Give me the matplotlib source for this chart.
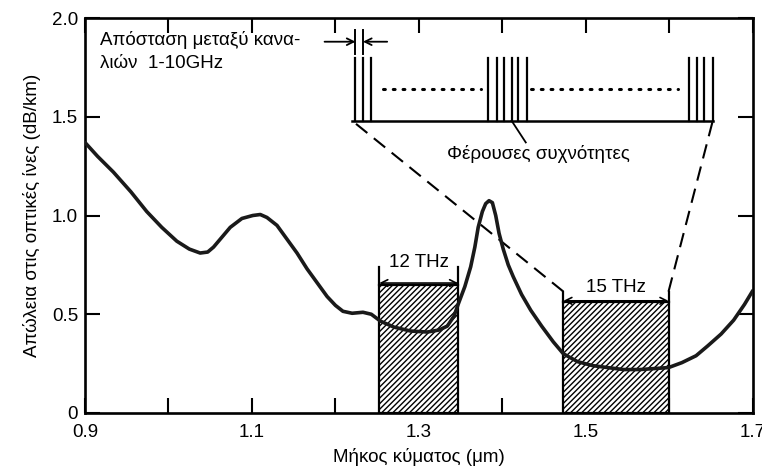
import matplotlib.pyplot as plt
from matplotlib.ticker import MultipleLocator

plt.rcParams['font.family'] = ['Liberation Sans', 'DejaVu Sans']
plt.rcParams['hatch.linewidth'] = 1.0

# loss curve
wavelength = [0.900, 0.915, 0.934, 0.955, 0.974, 0.992, 1.010, 1.025, 1.038, 1.047,
              1.054, 1.064, 1.074, 1.088, 1.101, 1.110, 1.118, 1.130, 1.142, 1.154,
              1.166, 1.178, 1.190, 1.200, 1.209, 1.220, 1.233, 1.243, 1.254, 1.270,
              1.290, 1.310, 1.324, 1.334, 1.342, 1.347, 1.355, 1.362, 1.367, 1.371,
              1.376, 1.380, 1.384, 1.388, 1.392, 1.396, 1.401, 1.407, 1.413, 1.423,
              1.434, 1.447, 1.461, 1.473, 1.490, 1.508, 1.526, 1.545, 1.565, 1.582,
              1.599, 1.615, 1.632, 1.646, 1.662, 1.677, 1.690, 1.700]
loss = [1.37, 1.30, 1.22, 1.12, 1.02, 0.94, 0.87, 0.83, 0.81, 0.815,
        0.84, 0.89, 0.94, 0.985, 1.00, 1.005, 0.99, 0.95, 0.88, 0.81,
        0.73, 0.66, 0.59, 0.545, 0.515, 0.505, 0.51, 0.50, 0.465, 0.435,
        0.415, 0.41, 0.42, 0.44, 0.49, 0.55, 0.64, 0.74, 0.84, 0.94,
        1.02, 1.06, 1.075, 1.065, 1.00, 0.91, 0.83, 0.75, 0.69, 0.60,
        0.52, 0.44, 0.36, 0.30, 0.26, 0.24, 0.23, 0.22, 0.22, 0.225,
        0.23, 0.255, 0.29, 0.34, 0.40, 0.47, 0.55, 0.62]

# low-loss windows
band_start = [1.2525, 1.473]
band_end = [1.347, 1.599]
band_top = [0.65, 0.56]
band_bracket = [0.74, 0.615]
band_labels = ['12 THz', '15 THz']

# inset with carrier frequencies
carriers_left = [1.224, 1.233, 1.243]
carriers_mid = [1.383, 1.393, 1.402, 1.411, 1.419, 1.430]
carriers_right = [1.623, 1.633, 1.642, 1.652]
inset_base = 1.48
inset_top = 1.80

FS = 13.5

fig = plt.figure(figsize=(7.62, 4.74), dpi=100)
ax = fig.add_axes([0.1115, 0.1287, 0.8765, 0.8333])

# hatched bands
for x0, x1, top in zip(band_start, band_end, band_top):
    ax.bar(x0, top, width=x1 - x0, align='edge', facecolor='white',
           edgecolor='black', hatch='//////', linewidth=1.6, zorder=2)

# brackets with arrows and labels
for x0, x1, top, br, lab in zip(band_start, band_end, band_top, band_bracket, band_labels):
    ax.plot([x0, x0], [top, br], color='black', lw=1.6, zorder=3)
    ax.plot([x1, x1], [top, br], color='black', lw=1.6, zorder=3)
    ax.annotate('', xy=(x0, top + 0.008), xytext=(x1, top + 0.008),
                arrowprops=dict(arrowstyle='<->', color='black', lw=1.2,
                                shrinkA=0, shrinkB=0, mutation_scale=12), zorder=3)
    ax.text((x0 + x1) / 2, br + 0.02, lab, ha='center', va='center', fontsize=FS)

ax.plot(wavelength, loss, color='#1a1a1a', lw=2.6, zorder=4, solid_capstyle='round')

# dashed zoom lines from bands to the inset
ax.plot([band_start[1], carriers_left[0] - 0.004], [band_bracket[1], inset_base],
        color='black', lw=1.5, linestyle=(0, (7, 4)), zorder=3)
ax.plot([band_end[1], carriers_right[-1]], [band_bracket[1], inset_base],
        color='black', lw=1.5, linestyle=(0, (7, 4)), zorder=3)

# inset: baseline, carriers, dots
ax.plot([carriers_left[0] - 0.004, carriers_right[-1]], [inset_base, inset_base],
        color='black', lw=1.8)
for c in carriers_left + carriers_mid + carriers_right:
    ax.plot([c, c], [inset_base, inset_top], color='black', lw=1.6)
ax.plot([1.257, 1.374], [1.64, 1.64], color='black', lw=2.2,
        linestyle=(0, (0.6, 2.6)), dash_capstyle='round')
ax.plot([1.434, 1.610], [1.64, 1.64], color='black', lw=2.2,
        linestyle=(0, (0.6, 2.6)), dash_capstyle='round')
ax.plot([1.411, 1.428], [inset_base, 1.37], color='black', lw=1.3)
ax.text(1.443, 1.31, 'Φέρουσες συχνότητες', ha='center', va='center', fontsize=FS)

# channel spacing marker
ax.plot([carriers_left[0], carriers_left[0]], [1.82, 1.94], color='black', lw=1.4)
ax.plot([carriers_left[1], carriers_left[1]], [1.82, 1.94], color='black', lw=1.4)
ax.annotate('', xy=(carriers_left[0], 1.88), xytext=(1.187, 1.88),
            arrowprops=dict(arrowstyle='->', color='black', lw=1.3,
                            shrinkA=0, shrinkB=0, mutation_scale=12))
ax.annotate('', xy=(carriers_left[1], 1.88), xytext=(1.262, 1.88),
            arrowprops=dict(arrowstyle='->', color='black', lw=1.3,
                            shrinkA=0, shrinkB=0, mutation_scale=12))
ax.text(0.918, 1.89, 'Απόσταση μεταξύ κανα-', ha='left', va='center', fontsize=FS)
ax.text(0.918, 1.77, 'λιών  1-10GHz', ha='left', va='center', fontsize=FS)

ax.set_xlim(0.9, 1.7)
ax.set_ylim(0, 2.0)
ax.set_xticks([0.9, 1.1, 1.3, 1.5, 1.7])
ax.set_xticklabels(['0.9', '1.1', '1.3', '1.5', '1.7'])
ax.xaxis.set_minor_locator(MultipleLocator(0.1))
ax.set_yticks([0, 0.5, 1.0, 1.5, 2.0])
ax.set_yticklabels(['0', '0.5', '1.0', '1.5', '2.0'])
ax.tick_params(axis='both', which='both', direction='in', top=True, right=True,
               length=11, width=1.5, labelsize=FS, color='black')
ax.tick_params(axis='x', pad=8)
ax.tick_params(axis='y', pad=5)
for sp in ax.spines.values():
    sp.set_linewidth(1.9)

ax.set_xlabel('Μήκος κύματος (μm)', fontsize=FS, labelpad=5)
ax.set_ylabel('Απώλεια στις οπτικές ίνες (dB/km)', fontsize=FS, labelpad=8)

fig.savefig('out.png', dpi=100)
